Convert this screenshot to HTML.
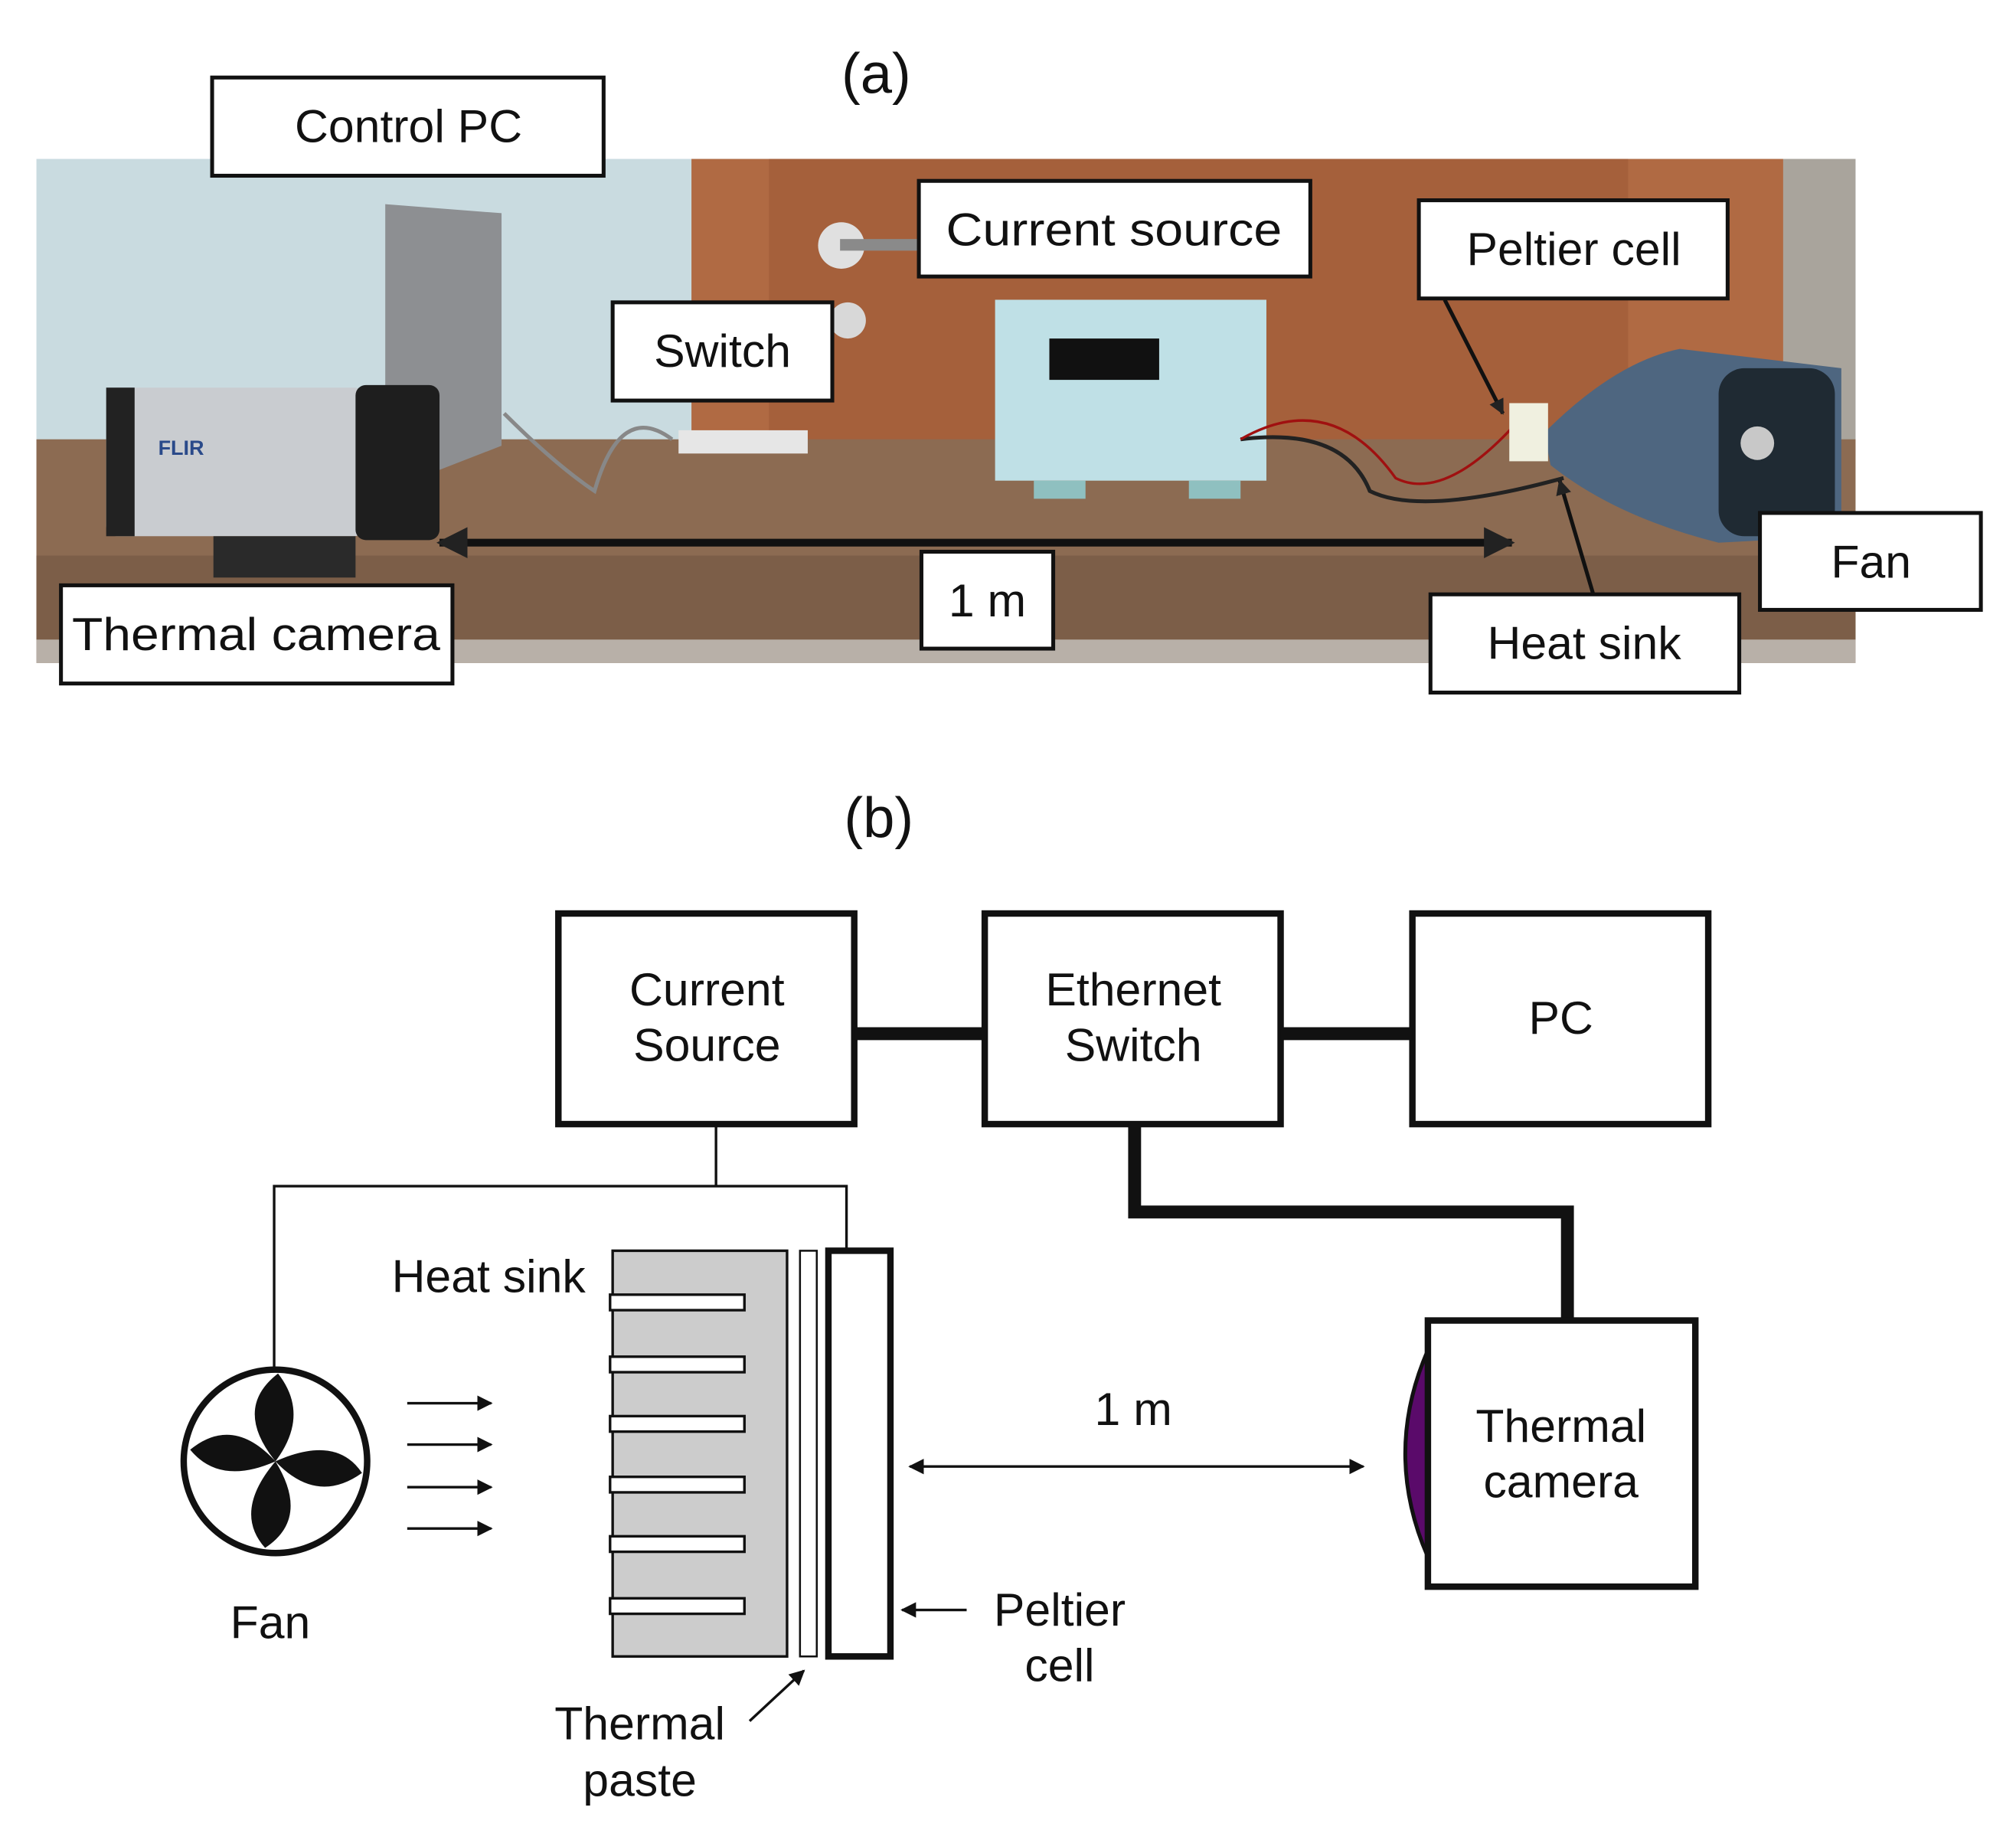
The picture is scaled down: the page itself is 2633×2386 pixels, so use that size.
<!DOCTYPE html>
<html><head><meta charset="utf-8"><style>html,body{margin:0;padding:0;background:#fff}svg{display:block}</style></head>
<body>
<svg width="2633" height="2386" viewBox="0 0 1560 1414" xmlns="http://www.w3.org/2000/svg" font-family="Liberation Sans, sans-serif">
<defs>
<marker id="ah" viewBox="0 0 10 10" refX="9" refY="5" markerWidth="6" markerHeight="6" orient="auto-start-reverse"><path d="M0,0 L10,5 L0,10 z" fill="#111"/></marker>
<marker id="ahb" viewBox="0 0 10 10" refX="9" refY="5" markerWidth="4" markerHeight="4" orient="auto-start-reverse"><path d="M0,0 L10,5 L0,10 z" fill="#222"/></marker>
</defs>
<rect width="1560" height="1414" fill="#fff"/>
<text x="678" y="72" font-size="44" text-anchor="middle" fill="#111">(a)</text>
<!-- photo -->
<rect x="28" y="123" width="1408" height="390" fill="#c9dbe0"/>
<rect x="535" y="123" width="845" height="230" fill="#b06a43"/>
<rect x="595" y="123" width="665" height="230" fill="#a5603b"/>
<rect x="1380" y="123" width="56" height="230" fill="#a9a49c"/>
<rect x="28" y="340" width="1408" height="173" fill="#8c6b52"/>
<rect x="28" y="430" width="1408" height="83" fill="#7c5e48"/>
<rect x="28" y="495" width="1408" height="18" fill="#b8b0a8"/>
<circle cx="651" cy="190" r="18" fill="#e0e0e0"/><rect x="650" y="185" width="62" height="9" fill="#8a8a8a"/>
<circle cx="656" cy="248" r="14" fill="#d8d8d8"/>
<!-- laptop -->
<polygon points="298,158 388,165 388,345 298,380" fill="#8d8f92"/>
<!-- camera -->
<rect x="82" y="300" width="200" height="115" rx="8" fill="#c9ccd0"/>
<rect x="82" y="300" width="22" height="115" fill="#222"/>
<rect x="275" y="298" width="65" height="120" rx="8" fill="#1e1e1e"/>
<rect x="165" y="415" width="110" height="32" fill="#2a2a2a"/>
<text x="140" y="352" font-size="16" font-weight="bold" fill="#2a4a8a" text-anchor="middle">FLIR</text>
<!-- switch device -->
<rect x="525" y="333" width="100" height="18" fill="#e6e6e6"/>
<!-- instrument -->
<rect x="770" y="232" width="210" height="140" fill="#bfe0e6"/>
<rect x="812" y="262" width="85" height="32" fill="#111"/>
<rect x="800" y="372" width="40" height="14" fill="#8fc0c0"/><rect x="920" y="372" width="40" height="14" fill="#8fc0c0"/>
<!-- wires -->
<path d="M960,340 Q1040,330 1060,380 Q1100,400 1210,370" fill="none" stroke="#222" stroke-width="3"/>
<path d="M960,340 Q1030,300 1080,370 Q1120,390 1180,320" fill="none" stroke="#a01010" stroke-width="2"/>
<path d="M390,320 Q430,360 460,380 Q480,310 520,340" fill="none" stroke="#888" stroke-width="3"/>
<!-- fan device -->
<path d="M1195,335 Q1250,280 1300,270 L1425,285 L1425,415 L1330,420 Q1250,400 1200,360 z" fill="#4e6680"/>
<rect x="1330" y="285" width="90" height="130" rx="20" fill="#1f2a33"/>
<circle cx="1360" cy="343" r="13" fill="#c8c8c8"/>
<rect x="1168" y="312" width="30" height="45" fill="#f0f0e0"/>
<!-- photo arrows -->
<line x1="340" y1="420" x2="1170" y2="420" stroke="#111" stroke-width="6" marker-start="url(#ahb)" marker-end="url(#ahb)"/>
<line x1="1118" y1="232" x2="1163" y2="320" stroke="#111" stroke-width="3" marker-end="url(#ahb)"/>
<line x1="1233" y1="460" x2="1207" y2="372" stroke="#111" stroke-width="3" marker-end="url(#ahb)"/>
<!-- label boxes -->
<g fill="#fff" stroke="#111" stroke-width="3">
<rect x="164" y="60" width="303" height="76"/>
<rect x="711" y="140" width="303" height="74"/>
<rect x="1098" y="155" width="239" height="76"/>
<rect x="474" y="234" width="170" height="76"/>
<rect x="1362" y="397" width="171" height="75"/>
<rect x="713" y="427" width="102" height="75"/>
<rect x="47" y="453" width="303" height="76"/>
<rect x="1107" y="460" width="239" height="76"/>
</g>
<g font-size="36" fill="#111" text-anchor="middle">
<text x="316" y="110">Control PC</text>
<text x="862" y="190" textLength="260" lengthAdjust="spacingAndGlyphs">Current source</text>
<text x="1218" y="205">Peltier cell</text>
<text x="559" y="284">Switch</text>
<text x="1448" y="447">Fan</text>
<text x="764" y="477">1 m</text>
<text x="198" y="503" textLength="285" lengthAdjust="spacingAndGlyphs">Thermal camera</text>
<text x="1226" y="510">Heat sink</text>
</g>
<!-- part b -->
<text x="680" y="648" font-size="44" text-anchor="middle" fill="#111">(b)</text>
<g fill="#fff" stroke="#111" stroke-width="5">
<rect x="432" y="707" width="229" height="163"/>
<rect x="762" y="707" width="229" height="163"/>
<rect x="1093" y="707" width="229" height="163"/>
</g>
<g stroke="#111" stroke-width="10" fill="none">
<line x1="661" y1="800" x2="762" y2="800"/>
<line x1="991" y1="800" x2="1093" y2="800"/>
<polyline points="878,870 878,938 1213,938 1213,1022"/>
</g>
<path d="M1105,1045 Q1070,1125 1105,1205 z" fill="#5a0a6a" stroke="#111" stroke-width="3"/>
<rect x="1105" y="1022" width="207" height="206" fill="#fff" stroke="#111" stroke-width="5"/>
<g stroke="#111" stroke-width="2" fill="none">
<polyline points="554,870 554,918"/>
<polyline points="212,1060 212,918 655,918 655,967"/>
</g>
<!-- fan -->
<circle cx="213" cy="1131" r="71" fill="#fff" stroke="#111" stroke-width="5"/>
<g fill="#111">
<path d="M213,1131 Q180,1090 215,1063 Q240,1095 213,1131z"/>
<path d="M213,1131 Q260,1110 280,1140 Q245,1165 213,1131z"/>
<path d="M213,1131 Q240,1175 205,1198 Q180,1170 213,1131z"/>
<path d="M213,1131 Q170,1150 147,1122 Q180,1095 213,1131z"/>
</g>
<g stroke="#111" stroke-width="2" marker-end="url(#ah)">
<line x1="315" y1="1086" x2="380" y2="1086"/>
<line x1="315" y1="1118" x2="380" y2="1118"/>
<line x1="315" y1="1151" x2="380" y2="1151"/>
<line x1="315" y1="1183" x2="380" y2="1183"/>
</g>
<!-- heat sink -->
<rect x="474" y="968" width="135" height="314" fill="#cccccc" stroke="#111" stroke-width="2"/>
<g fill="#fff" stroke="#111" stroke-width="2">
<rect x="472" y="1002" width="104" height="12"/>
<rect x="472" y="1050" width="104" height="12"/>
<rect x="472" y="1096" width="104" height="12"/>
<rect x="472" y="1143" width="104" height="12"/>
<rect x="472" y="1189" width="104" height="12"/>
<rect x="472" y="1237" width="104" height="12"/>
</g>
<rect x="619" y="968" width="13" height="314" fill="#fff" stroke="#111" stroke-width="1.5"/>
<rect x="641" y="968" width="48" height="314" fill="#fff" stroke="#111" stroke-width="5"/>
<line x1="704" y1="1135" x2="1055" y2="1135" stroke="#111" stroke-width="2" marker-start="url(#ah)" marker-end="url(#ah)"/>
<line x1="748" y1="1246" x2="698" y2="1246" stroke="#111" stroke-width="2" marker-end="url(#ah)"/>
<line x1="580" y1="1332" x2="622" y2="1293" stroke="#111" stroke-width="2" marker-end="url(#ah)"/>
<g font-size="36" fill="#111" text-anchor="middle">
<text x="547" y="778">Current</text>
<text x="547" y="821">Source</text>
<text x="877" y="778">Ethernet</text>
<text x="877" y="821">Switch</text>
<text x="1208" y="800">PC</text>
<text x="1208" y="1116">Thermal</text>
<text x="1208" y="1159">camera</text>
<text x="877" y="1103">1 m</text>
<text x="378" y="1000">Heat sink</text>
<text x="209" y="1268">Fan</text>
<text x="820" y="1258">Peltier</text>
<text x="820" y="1301">cell</text>
<text x="495" y="1346">Thermal</text>
<text x="495" y="1390">paste</text>
</g>
</svg>
</body></html>
